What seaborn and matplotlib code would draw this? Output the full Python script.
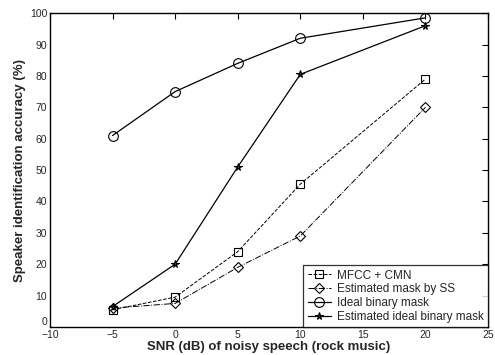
import numpy as np
import pandas as pd
import matplotlib
matplotlib.use("Agg")
import matplotlib.pyplot as plt
import seaborn as sns

snr = [-5, 0, 5, 10, 20]
mfcc_cmn = [5.5, 9.5, 24, 45.5, 79]
est_mask_ss = [6, 7.5, 19, 29, 70]
ideal_mask = [61, 75, 84, 92, 98.5]
est_ideal_mask = [6.5, 20, 51, 80.5, 96]

labels = ["MFCC + CMN", "Estimated mask by SS", "Ideal binary mask",
          "Estimated ideal binary mask"]
series = [mfcc_cmn, est_mask_ss, ideal_mask, est_ideal_mask]

df = pd.concat([pd.DataFrame({"snr": snr, "acc": v, "method": lab})
                for lab, v in zip(labels, series)], ignore_index=True)

sns.set_style("white")
plt.rcParams['font.family'] = ['Liberation Sans', 'DejaVu Sans']

fig = plt.figure(figsize=(4.95, 3.55), dpi=100)
ax = fig.add_axes([0.101, 0.079, 0.885, 0.884])

styles = {
    "MFCC + CMN": dict(ls="--", marker="s", ms=5.5, lw=0.7),
    "Estimated mask by SS": dict(ls="-.", marker="D", ms=5, lw=0.7),
    "Ideal binary mask": dict(ls="-", marker="o", ms=7, lw=0.9),
    "Estimated ideal binary mask": dict(ls="-", marker="*", ms=5.5, lw=0.9),
}
for lab in labels:
    st = styles[lab]
    sns.lineplot(data=df[df.method == lab], x="snr", y="acc", ax=ax, label=lab,
                 color="black", linestyle=st["ls"], marker=st["marker"],
                 markersize=st["ms"], linewidth=st["lw"],
                 markerfacecolor="none" if st["marker"] != "*" else "#333333",
                 markeredgecolor="black", markeredgewidth=0.8)

ax.set_xlim(-10, 25)
ax.set_ylim(0, 100)
ax.set_xticks(np.arange(-10, 26, 5))
ax.set_yticks(np.arange(0, 101, 10))
ax.tick_params(direction="in", length=4, width=0.8, labelsize=7.5,
               top=True, right=True, color="black", pad=2)
for s in ax.spines.values():
    s.set_color("black")
    s.set_linewidth(1.0)

# the "0" sits just above the "-10" like in the original
fig.canvas.draw()
ax.get_yticklabels()[0].set_verticalalignment("bottom")

ax.set_xlabel("SNR (dB) of noisy speech (rock music)", fontsize=9.5,
              fontweight="bold", labelpad=1)
ax.set_ylabel("Speaker identification accuracy (%)", fontsize=9.5,
              fontweight="bold", labelpad=3)

leg = ax.legend(loc="lower right", fontsize=8.5, frameon=True, fancybox=False,
                borderaxespad=0, handlelength=2.0, labelspacing=0.15,
                borderpad=0.35, handletextpad=0.5)
leg.get_frame().set_edgecolor("black")
leg.get_frame().set_linewidth(0.9)

fig.savefig("out.png", dpi=100)
